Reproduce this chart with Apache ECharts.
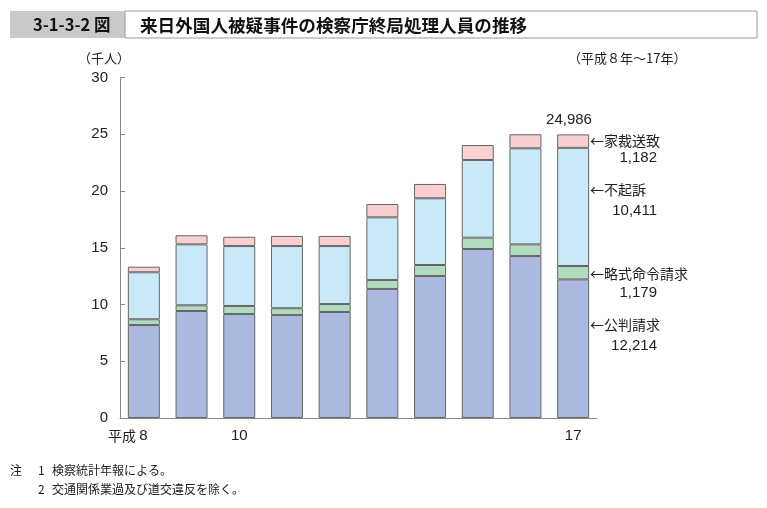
<!DOCTYPE html>
<html><head><meta charset="utf-8">
<script src="https://cdn.jsdelivr.net/npm/echarts@6/dist/echarts.min.js"></script>
<style>html,body{margin:0;padding:0;background:#fff}#c{width:767px;height:508px}</style>
</head><body><div id="c"></div>
<script>
// Data (thousands of persons), 平成8年〜17年
const years = ['平成8','9','10','11','12','13','14','15','16','17'];
const tickLabels = ['平成8','','10','','','','','','','17'];
const koban = [8.19, 9.43, 9.16, 9.07, 9.34, 11.37, 12.51, 14.89, 14.27, 12.214]; // 公判請求
const ryakushiki = [0.51, 0.50, 0.71, 0.60, 0.70, 0.79, 0.97, 1.00, 1.03, 1.179]; // 略式命令請求
const fukiso = [4.14, 5.37, 5.28, 5.48, 5.11, 5.52, 5.88, 6.84, 8.46, 10.411]; // 不起訴
const kasai = [0.49, 0.80, 0.82, 0.89, 0.89, 1.17, 1.26, 1.32, 1.24, 1.182]; // 家裁送致
const yTicks = [0, 5, 10, 15, 20, 25, 30];
const lastTotal = '24,986';
const lastLabels = ['1,182', '10,411', '1,179', '12,214'];

const FONT = 'Liberation Sans, Arial, sans-serif';
const CJK = '"Noto Sans CJK JP", sans-serif';
const chart = echarts.init(document.getElementById('c'));
const border = { borderColor: '#666', borderWidth: 1 };
function bar(name, data, color) {
  return { name, type: 'bar', stack: 'a', data, barWidth: 32,
    itemStyle: Object.assign({ color }, border), emphasis: { disabled: true } };
}
chart.setOption({
  animation: false,
  grid: { left: 120, right: 170, top: 77.5, bottom: 90 },
  xAxis: {
    type: 'category', data: years,
    axisLine: { lineStyle: { color: '#888', width: 1 } },
    axisTick: { show: false },
    axisLabel: {
      interval: 0, margin: 10, color: '#222', fontFamily: FONT, fontSize: 15,
      formatter: (v, i) => i === 0 ? '{h|平成 }8{s|}' : tickLabels[i],
      rich: { h: { fontFamily: CJK, fontSize: 14, color: '#222' }, s: { width: 32 } }
    }
  },
  yAxis: {
    type: 'value', min: yTicks[0], max: yTicks[yTicks.length - 1], interval: 5,
    axisLine: { show: true, lineStyle: { color: '#888', width: 1 } },
    axisTick: { show: true, inside: true, length: 5, lineStyle: { color: '#888' } },
    splitLine: { show: false },
    axisLabel: { margin: 12, color: '#222', fontFamily: FONT, fontSize: 15 }
  },
  series: [
    bar('公判請求', koban, '#abb8e0'),
    bar('略式命令請求', ryakushiki, '#b2dcc0'),
    bar('不起訴', fukiso, '#c8e9f8'),
    bar('家裁送致', kasai, '#f9cfd0')
  ],
  graphic: [
    { type: 'rect', shape: { x: 10, y: 11, width: 115, height: 27 }, style: { fill: '#c9c9c9' } },
    { type: 'rect', shape: { x: 125, y: 11, width: 632, height: 27 }, style: { fill: '#fff', stroke: '#9a9a9a', lineWidth: 1 } },
    { type: 'text', x: 33, y: 25, style: { text: '3-1-3-2 図', font: 'bold 16.5px ' + CJK, fill: '#111', verticalAlign: 'middle' } },
    { type: 'text', x: 140, y: 25, style: { text: '来日外国人被疑事件の検察庁終局処理人員の推移', font: 'bold 17.6px ' + CJK, fill: '#111', verticalAlign: 'middle' } },
    { type: 'text', x: 78, y: 58, style: { text: '（千人）', font: '13px ' + CJK, fill: '#222', verticalAlign: 'middle' } },
    { type: 'text', x: 568, y: 58, style: { text: '（平成８年～17年）', font: '13px ' + CJK, fill: '#222', verticalAlign: 'middle' } },
    { type: 'text', x: 569, y: 120, style: { text: lastTotal, font: '15px ' + FONT, fill: '#222', align: 'center', verticalAlign: 'middle' } },
    { type: 'text', x: 590, y: 141, style: { text: '←家裁送致', font: '14px ' + CJK, fill: '#222', verticalAlign: 'middle' } },
    { type: 'text', x: 657, y: 158, style: { text: lastLabels[0], font: '15px ' + FONT, fill: '#222', align: 'right', verticalAlign: 'middle' } },
    { type: 'text', x: 590, y: 190, style: { text: '←不起訴', font: '14px ' + CJK, fill: '#222', verticalAlign: 'middle' } },
    { type: 'text', x: 657, y: 211, style: { text: lastLabels[1], font: '15px ' + FONT, fill: '#222', align: 'right', verticalAlign: 'middle' } },
    { type: 'text', x: 590, y: 274, style: { text: '←略式命令請求', font: '14px ' + CJK, fill: '#222', verticalAlign: 'middle' } },
    { type: 'text', x: 657, y: 293, style: { text: lastLabels[2], font: '15px ' + FONT, fill: '#222', align: 'right', verticalAlign: 'middle' } },
    { type: 'text', x: 590, y: 325, style: { text: '←公判請求', font: '14px ' + CJK, fill: '#222', verticalAlign: 'middle' } },
    { type: 'text', x: 657, y: 346, style: { text: lastLabels[3], font: '15px ' + FONT, fill: '#222', align: 'right', verticalAlign: 'middle' } },
    { type: 'text', x: 10, y: 470, style: { text: '注', font: '12px ' + CJK, fill: '#222', verticalAlign: 'middle' } },
    { type: 'text', x: 38, y: 470, style: { text: '1', font: '12px ' + CJK, fill: '#222', verticalAlign: 'middle' } },
    { type: 'text', x: 52, y: 470, style: { text: '検察統計年報による。', font: '12px ' + CJK, fill: '#222', verticalAlign: 'middle' } },
    { type: 'text', x: 38, y: 489, style: { text: '2', font: '12px ' + CJK, fill: '#222', verticalAlign: 'middle' } },
    { type: 'text', x: 52, y: 489, style: { text: '交通関係業過及び道交違反を除く。', font: '12px ' + CJK, fill: '#222', verticalAlign: 'middle' } }
  ]
});
</script></body></html>
